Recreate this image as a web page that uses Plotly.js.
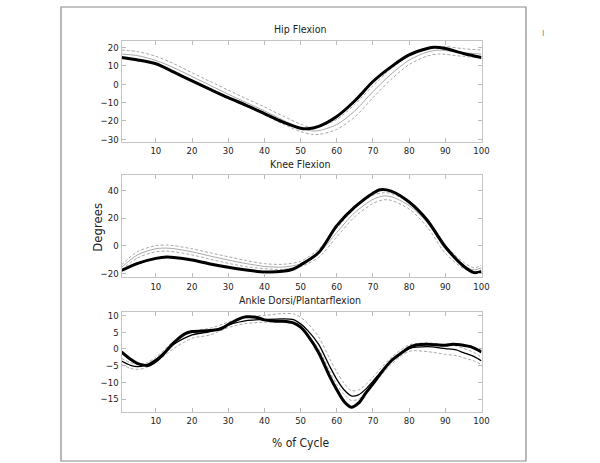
<!DOCTYPE html>
<html><head><meta charset="utf-8">
<script src="https://cdn.plot.ly/plotly-3.0.1.min.js"></script>
<style>body{margin:0;background:#fff}#chart{width:600px;height:463px}</style>
</head><body><div id="chart"></div>
<script>
// ---- Hip Flexion ----
const hipX      = [0.5, 5, 10, 15, 20, 25, 30, 35, 40, 45, 50, 52, 55, 60, 65, 70, 75, 80, 85, 87, 90, 95, 100];
const hipPatient= [14.6, 13.3, 11.2, 6.6, 1.8, -2.8, -7.3, -11.5, -16, -20.5, -24, -24.3, -23, -17.6, -9, 1.5, 9.5, 16, 19.5, 20.2, 19.5, 16.8, 14.6];
const hipNormX  = [0.5, 5, 10, 15, 20, 25, 30, 35, 40, 45, 50, 53, 55, 60, 65, 70, 75, 80, 85, 88, 90, 95, 100];
const hipMean   = [16.5, 15.6, 13, 9, 4.2, -0.6, -5.4, -10, -14.5, -19.4, -23.8, -25.4, -25.3, -22, -14.5, -4, 5.5, 13.2, 17.6, 18.6, 18.4, 17.2, 16.5];
const hipUpper  = [18.7, 17.8, 15.3, 11.2, 6.3, 1.5, -3.2, -7.8, -12.4, -17.2, -21.8, -23.6, -23.2, -19.2, -11, -0.8, 8.5, 15.5, 19.6, 20.6, 20.6, 19.4, 18.7];
const hipLower  = [14.4, 13.4, 10.8, 6.8, 2, -2.8, -7.6, -12.2, -16.7, -21.6, -25.8, -27.3, -27.4, -24.6, -17.8, -7.3, 2.6, 10.8, 15.4, 16.5, 16.3, 15.2, 14.4];

// ---- Knee Flexion ----
const kneeX      = [0.5, 5, 10, 13, 15, 20, 25, 30, 35, 40, 45, 48, 50, 55, 60, 65, 70, 72, 75, 80, 85, 90, 95, 98, 100];
const kneePatient= [-18, -12.8, -9.2, -8.2, -8.5, -10.4, -13.3, -15.7, -17.6, -19, -18.6, -16.9, -14, -5, 14.5, 28, 38, 40.5, 39.5, 31.6, 18.4, -0.8, -14.7, -19.5, -18.8];
const kneeNormX  = [0.5, 5, 10, 13, 15, 20, 25, 30, 35, 40, 45, 50, 55, 60, 65, 70, 73, 75, 80, 85, 90, 95, 98, 100];
const kneeMean   = [-15.7, -6.5, -2.2, -1.8, -2.2, -4.5, -7.5, -10.4, -13, -15, -15.5, -13.2, -5.5, 9.5, 24, 33.5, 36, 35.5, 29, 16.5, -2.5, -14.5, -17.5, -16];
const kneeUpper  = [-14, -4.2, 0, 0.4, 0, -2.3, -5.2, -8, -10.8, -13, -13.5, -11.3, -2.5, 12.5, 27, 36.5, 38.3, 37.8, 31.5, 19.4, 0.5, -12, -16, -14];
const kneeLower  = [-17.5, -8.8, -4.4, -4, -4.4, -6.7, -9.8, -12.8, -15.2, -16.6, -17.2, -15.2, -8.5, 6.4, 21, 30.5, 33.2, 32.8, 26.5, 13.5, -5.5, -16.5, -18.8, -17.5];

// ---- Ankle Dorsi/Plantarflexion ----
const ankleX      = [0.5, 3, 5, 7, 8, 10, 12, 15, 18, 20, 25, 28, 30, 33, 35, 38, 40, 43, 45, 48, 50, 52, 55, 58, 60, 62, 64, 66, 68, 70, 73, 75, 78, 80, 82, 85, 90, 92, 95, 97, 100];
const anklePatient= [-0.9, -3.1, -4.4, -4.9, -4.9, -3.6, -1.6, 1.9, 4.5, 5.2, 5.5, 6, 7.3, 9, 9.6, 9.4, 8.7, 8.3, 8.3, 7.8, 6.5, 4, -1.1, -8.1, -12.2, -15.7, -17.4, -16.2, -13.2, -10.4, -6.1, -3.6, -1.1, 0.4, 1.2, 1.4, 1.1, 1.4, 1.1, 0.7, -0.9];
const ankleNormX  = [0.5, 3, 5, 7, 10, 15, 20, 25, 30, 35, 40, 45, 48, 50, 52, 55, 58, 60, 62, 64, 66, 68, 70, 75, 80, 85, 90, 93, 95, 98, 100];
const ankleMean   = [-3.6, -4.9, -5.3, -4.9, -3.1, 1.4, 4.2, 5.2, 7.2, 8.5, 8.8, 9, 8.8, 7.5, 5.5, 1.4, -5.1, -9.1, -12.2, -14, -13.7, -12, -9.6, -3.6, 0.1, 0.7, 0.1, -0.3, -1.1, -2.3, -3.6];
const ankleUpper  = [-2.8, -4.1, -4.6, -4.3, -2.5, 2.4, 5.2, 6.2, 8, 9.6, 10, 10.6, 10.5, 9.5, 7.6, 3.6, -2.8, -6.9, -10.2, -12.4, -12.3, -10.7, -8.4, -2.6, 1.2, 1.8, 1.3, 0.9, 0.2, -1.1, -2.5];
const ankleLower  = [-4.6, -5.8, -6.1, -5.7, -4, 0.2, 3.2, 4.2, 6.4, 7.6, 8, 8.1, 7.8, 6.3, 4.2, 0, -6.6, -10.6, -13.6, -15.4, -15, -13.2, -10.8, -4.6, -0.7, -0.8, -1.6, -2, -2.6, -3.6, -4.7];

const xTicks = [10, 20, 30, 40, 50, 60, 70, 80, 90, 100];
const hipTicks = [-30, -20, -10, 0, 10, 20];
const kneeTicks = [-20, 0, 20, 40];
const ankleTicks = [-15, -10, -5, 0, 5, 10];

const grey = '#a8a8a8';
function dashed(x, y, xa, ya) { return {x:x, y:y, xaxis:xa, yaxis:ya, mode:'lines', line:{color:grey, width:1, dash:'3px,2px', shape:'spline', smoothing:0.8}, hoverinfo:'skip'}; }
function solid(x, y, xa, ya, c, w) { return {x:x, y:y, xaxis:xa, yaxis:ya, mode:'lines', line:{color:c, width:w, shape:'spline', smoothing:0.8}, hoverinfo:'skip'}; }

const data = [
  dashed(hipNormX, hipUpper, 'x', 'y'), dashed(hipNormX, hipLower, 'x', 'y'),
  solid(hipNormX, hipMean, 'x', 'y', grey, 1), solid(hipX, hipPatient, 'x', 'y', '#000', 3),
  dashed(kneeNormX, kneeUpper, 'x2', 'y2'), dashed(kneeNormX, kneeLower, 'x2', 'y2'),
  solid(kneeNormX, kneeMean, 'x2', 'y2', grey, 1), solid(kneeX, kneePatient, 'x2', 'y2', '#000', 3),
  dashed(ankleNormX, ankleUpper, 'x3', 'y3'), dashed(ankleNormX, ankleLower, 'x3', 'y3'),
  solid(ankleNormX, ankleMean, 'x3', 'y3', '#000', 1.3), solid(ankleX, anklePatient, 'x3', 'y3', '#000', 3)
];

const font = "'Liberation Sans Narrow', 'DejaVu Sans Condensed', Arial, sans-serif";
function xax(anchor) {
  return {domain:[0.2025, 0.8025], range:[0.5, 100], anchor:anchor, tickvals:xTicks, ticks:'inside', ticklen:4, tickcolor:'#bbb',
    showline:true, linecolor:'#c4c4c4', linewidth:1, mirror:'ticks', showgrid:false, zeroline:false, tickfont:{size:9.5, color:'#222', family:font}};
}
function yax(dom, range, ticks, anchor) {
  return {domain:dom, range:range, anchor:anchor, tickvals:ticks, ticks:'inside', ticklen:4, tickcolor:'#bbb',
    showline:true, linecolor:'#c4c4c4', linewidth:1, mirror:'ticks', showgrid:false, zeroline:false, tickfont:{size:9.5, color:'#222', family:font}};
}

const layout = {
  width:600, height:463, margin:{l:0, r:0, t:0, b:0}, paper_bgcolor:'#fff', plot_bgcolor:'#fff', showlegend:false,
  font:{family:font, color:'#222'},
  xaxis: xax('y'), yaxis: yax([0.6933, 0.9114], [-31.5, 23.6], hipTicks, 'x'),
  xaxis2: xax('y2'), yaxis2: yax([0.4011, 0.6210], [-22.9, 50.8], kneeTicks, 'x2'),
  xaxis3: xax('y3'), yaxis3: yax([0.1108, 0.3272], [-18.75, 11.2], ankleTicks, 'x3'),
  shapes:[{type:'rect', xref:'paper', yref:'paper', x0:61/600, x1:526/600, y0:2/463, y1:456/463, line:{color:'#8a8a8a', width:1.2}}],
  annotations:[
    {text:'Hip Flexion', xref:'paper', yref:'paper', x:0.5, y:0.937, showarrow:false, xanchor:'center', yanchor:'middle', font:{size:10.5, family:font, color:'#222'}},
    {text:'Knee Flexion', xref:'paper', yref:'paper', x:0.5, y:0.646, showarrow:false, xanchor:'center', yanchor:'middle', font:{size:10.5, family:font, color:'#222'}},
    {text:'Ankle Dorsi/Plantarflexion', xref:'paper', yref:'paper', x:0.5, y:0.352, showarrow:false, xanchor:'center', yanchor:'middle', font:{size:10.5, family:font, color:'#222'}},
    {text:'% of Cycle', xref:'paper', yref:'paper', x:0.5, y:0.043, showarrow:false, xanchor:'center', yanchor:'middle', font:{size:12, family:font, color:'#222'}},
    {text:'Degrees', xref:'paper', yref:'paper', x:0.163, y:0.51, showarrow:false, xanchor:'center', yanchor:'middle', textangle:-90, font:{size:13, family:font, color:'#222'}},
    {text:'ı', xref:'paper', yref:'paper', x:543/600, y:(463-33)/463, showarrow:false, xanchor:'center', yanchor:'middle', font:{size:10, family:font, color:'#888'}}
  ]
};
Plotly.newPlot('chart', data, layout, {staticPlot:true, displayModeBar:false});
</script></body></html>
